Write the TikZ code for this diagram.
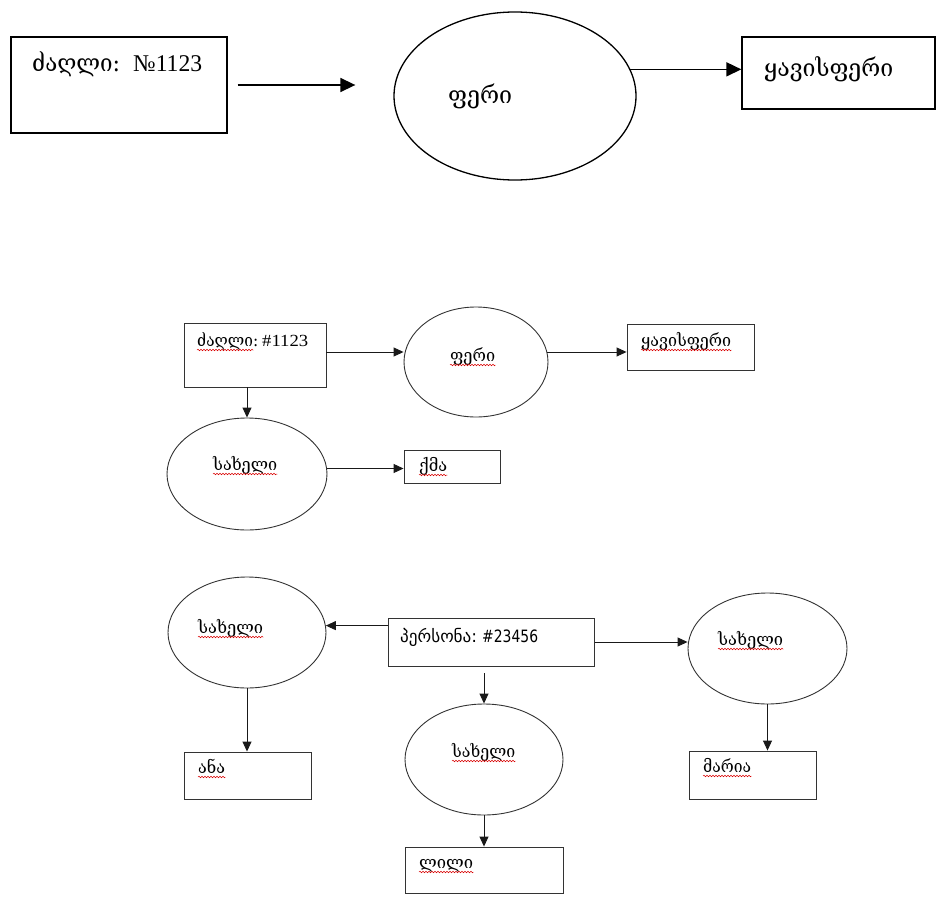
\documentclass[tikz,border=0pt]{standalone}
\usepackage{fontspec}
\setmainfont{Liberation Serif}
\newfontfamily\geo{DejaVu Serif}
\newfontfamily\geosans{DejaVu Sans}
\usetikzlibrary{shapes.geometric,arrows.meta,decorations.pathmorphing}
\newcommand\fitw[2]{\resizebox{#1pt}{\height}{#2}}
\tikzset{
  bigbox/.style={draw=black, line width=1.3pt, rectangle, inner sep=0pt},
  bigell/.style={draw=black, line width=1.3pt, ellipse, inner sep=0pt},
  smbox/.style={draw=black!80, line width=0.9pt, rectangle, inner sep=0pt},
  smell/.style={draw=black!80, line width=0.9pt, ellipse, inner sep=0pt},
  bigarr/.style={line width=1.6pt, -{Triangle[length=15pt,width=14pt]}},
  smarr/.style={line width=0.9pt, black!90, -{Triangle[length=10pt,width=9pt]}},
  txtbig/.style={inner sep=0pt, anchor=base west, font=\fontsize{24}{28}\selectfont},
  txtsm/.style={inner sep=0pt, anchor=base west, font=\fontsize{17}{20}\selectfont},
  wavy/.style={draw=red!85!black, line width=0.5pt, decorate,
     decoration={snake, segment length=3pt, amplitude=0.8pt}},
}
\begin{document}
\begin{tikzpicture}[x=1pt, y=-1pt]
\useasboundingbox (0,0) rectangle (937,899);

% ---------- top ----------
\node[bigbox, minimum width=216pt, minimum height=96pt] (box1) at (119,85) {};
\node[bigell, minimum width=242pt, minimum height=168pt] (el1) at (515,96) {};
\node[bigbox, minimum width=193pt, minimum height=72pt] (box2) at (838.5,73) {};

\node[txtbig] (tA1) at (32,72) {\fitw{88}{\geo ძაღლი:}};
\node[txtbig] (tA2) at (133,72) {\fitw{69}{№1123}};
\node[txtbig] (tB) at (448,103) {\fitw{64}{\geo ფერი}};
\node[txtbig] (tC) at (764,77) {\fitw{129}{\geo ყავისფერი}};

\draw[bigarr] ([xshift=10pt]box1.east) -- ([xshift=-38pt]box1.east -| el1.west);
\draw[bigarr] (el1.13) -- (el1.13 -| box2.west);

% ---------- middle ----------
\node[smbox, minimum width=142pt, minimum height=64pt] (boxA) at (255,355) {};
\node[smell, minimum width=144pt, minimum height=110pt] (elB) at (476,362) {};
\node[smbox, minimum width=127pt, minimum height=46pt] (boxC) at (690.5,347) {};
\node[smell, minimum width=160pt, minimum height=112pt] (elD) at (247,474) {};
\node[smbox, minimum width=96pt, minimum height=33pt] (boxE) at (452,466.5) {};

\node[txtsm] (m1) at (197,346) {\fitw{61}{\geo ძაღლი:}};
\node[txtsm] (m2) at (262,346) {\fitw{46}{\#1123}};
\node[txtsm] (m3) at (450,361) {\fitw{45}{\geo ფერი}};
\node[txtsm] (m4) at (641,346) {\fitw{90}{\geo ყავისფერი}};
\node[txtsm] (m5) at (213,470) {\fitw{64}{\geo სახელი}};
\node[txtsm] (m6) at (419,471) {\fitw{28}{\geo ქმა}};

\draw[smarr] ([yshift=3pt]boxA.east) -- ([yshift=3pt]boxA.east -| elB.west);
\draw[smarr] (elB.8) -- (elB.8 -| boxC.west);
\draw[smarr] (elD.north |- boxA.south) -- (elD.north);
\draw[smarr] ([yshift=-2pt]elD.east |- boxE.west) -- ([yshift=-2pt]boxE.west);

% ---------- bottom ----------
\node[smell, minimum width=158pt, minimum height=111pt] (elF) at (247,632.5) {};
\node[smbox, minimum width=206pt, minimum height=48pt] (boxP) at (491.5,642) {};
\node[smell, minimum width=159pt, minimum height=111pt] (elH) at (767.5,648.5) {};
\node[smbox, minimum width=127pt, minimum height=47pt] (boxAna) at (247.5,775.5) {};
\node[smell, minimum width=158pt, minimum height=111pt] (elG) at (484,759.5) {};
\node[smbox, minimum width=158pt, minimum height=46pt] (boxL) at (484,870) {};
\node[smbox, minimum width=127pt, minimum height=48pt] (boxM) at (752.5,775) {};

\node[txtsm] (b1) at (198,633) {\fitw{65}{\geo სახელი}};
\node[txtsm] (b2) at (400,642) {\fitw{77}{\geosans პერსონა:}};
\node[txtsm] (b3) at (482,642) {\fitw{56}{\geosans \#23456}};
\node[txtsm] (b4) at (718,645) {\fitw{65}{\geo სახელი}};
\node[txtsm] (b5) at (452,757) {\fitw{63}{\geo სახელი}};
\node[txtsm] (b6) at (198,773) {\fitw{27}{\geo ანა}};
\node[txtsm] (b7) at (703,772) {\fitw{48}{\geo მარია}};
\node[txtsm] (b8) at (419,868) {\fitw{54}{\geo ლილი}};

\draw[smarr] (elF.5 -| boxP.west) -- (elF.5);
\draw[smarr] (boxP.east) -- (boxP.east -| elH.west);
\draw[smarr] ([yshift=-7pt]elG.north |- boxP.south) -- (elG.north);
\draw[smarr] (elF.south) -- (elF.south |- boxAna.north);
\draw[smarr] (elG.south) -- (elG.south |- boxL.north);
\draw[smarr] (elH.south) -- (elH.south |- boxM.north);

% ---------- spell-check underlines ----------
\foreach \t/\w in {m1/-5, m3/0, m4/0, m5/0, m6/0, b1/0, b4/0, b5/0, b6/0, b7/0, b8/0}{
  \draw[wavy] ([yshift=-4pt]\t.base west) -- ([yshift=-4pt, xshift=\w pt]\t.base east);
}
\end{tikzpicture}
\end{document}
